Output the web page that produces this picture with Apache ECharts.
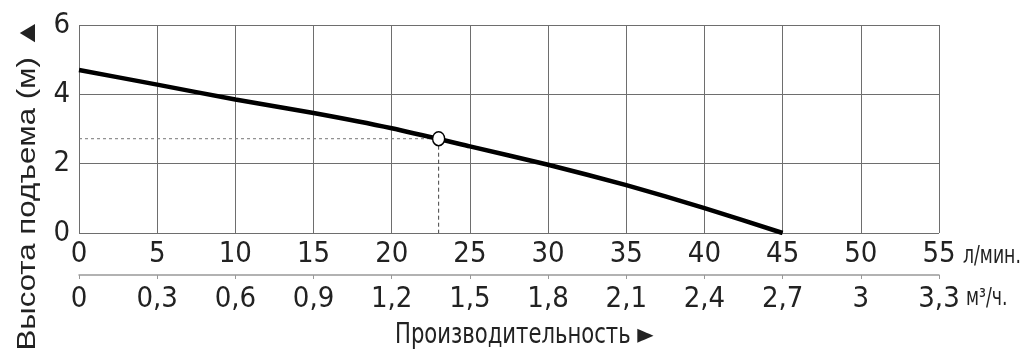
<!DOCTYPE html>
<html><head><meta charset="utf-8">
<script src="https://cdn.jsdelivr.net/npm/echarts@6/dist/echarts.min.js"></script>
<style>html,body{margin:0;padding:0;background:#fff}#c{width:1022px;height:355px}</style>
</head><body><div id="c"></div>
<script>
const flowLpm = [0, 5, 10, 15, 20, 25, 30, 35, 40, 45];
const headM = [4.7, 4.28, 3.85, 3.46, 3.02, 2.5, 1.97, 1.38, 0.72, 0];
const opPoint = [23, 2.72];
const m3Labels = ['0','0,3','0,6','0,9','1,2','1,5','1,8','2,1','2,4','2,7','3','3,3'];
const yTicks = [0, 2, 4, 6];

const NARROW = '"Liberation Sans Narrow","DejaVu Sans Condensed","Arial Narrow",sans-serif';
const chart = echarts.init(document.getElementById('c'), null, {renderer:'canvas'});
const gridCol = '#6e6e6e';
chart.setOption({
  animation:false,
  backgroundColor:'#fff',
  grid:{left:79, right:83, top:25, bottom:122, containLabel:false},
  xAxis:[{
    type:'value', min:0, max:55, interval:5, position:'bottom',
    axisLine:{show:false}, axisTick:{show:false},
    splitLine:{show:true, lineStyle:{color:gridCol, width:1}},
    axisLabel:{fontFamily:NARROW, fontSize:29, color:'#222', margin:7}
  },{
    type:'value', min:0, max:55, interval:5, position:'bottom', offset:42,
    axisLine:{show:true, lineStyle:{color:'#999', width:1.5}},
    axisTick:{show:true, length:4, lineStyle:{color:'#999'}},
    splitLine:{show:false},
    axisLabel:{fontFamily:NARROW, fontSize:29, color:'#222', margin:10,
      formatter:v=>m3Labels[Math.round(v/5)]}
  }],
  yAxis:{
    type:'value', min:yTicks[0], max:yTicks[yTicks.length-1], interval:2,
    axisLine:{show:false}, axisTick:{show:false},
    splitLine:{show:true, lineStyle:{color:gridCol, width:1}},
    axisLabel:{fontFamily:NARROW, fontSize:29, color:'#222', margin:9}
  },
  series:[{
    type:'line', xAxisIndex:0, data:flowLpm.map((x,i)=>[x,headM[i]]),
    smooth:0.2, symbol:'none', lineStyle:{color:'#000', width:4.5}, z:3
  },{
    type:'line', xAxisIndex:0, data:[[0,opPoint[1]],[opPoint[0],opPoint[1]]],
    symbol:'none', lineStyle:{color:'#777', width:1, type:[3,3]}, z:2
  },{
    type:'line', xAxisIndex:0, data:[[opPoint[0],opPoint[1]],[opPoint[0],0]],
    symbol:'none', lineStyle:{color:'#444', width:1, type:[4,3]}, z:2
  },{
    type:'scatter', xAxisIndex:0, data:[opPoint], symbol:'circle', symbolSize:[12,14],
    itemStyle:{color:'#fff', borderColor:'#000', borderWidth:1.5, opacity:1}, z:5
  }],
  graphic:[
    {type:'text', left:963, top:245, scaleX:0.8, style:{text:'л/мин.', fontFamily:NARROW, fontSize:24, fill:'#222'}},
    {type:'text', left:966, top:287, scaleX:0.8, style:{text:'м³/ч.', fontFamily:NARROW, fontSize:24, fill:'#222'}},
    {type:'text', left:395, top:322, scaleX:0.84, style:{text:'Производительность ►', fontFamily:NARROW, fontSize:28, fill:'#222'}},
    {type:'text', x:28, y:184, rotation:Math.PI/2, scaleX:1.2, style:{text:'Высота подъема (м) ▲', fontFamily:'"Liberation Sans",Arial,"DejaVu Sans",sans-serif', fontSize:26, fill:'#222', align:'center', verticalAlign:'middle'}}
  ]
});
</script></body></html>
